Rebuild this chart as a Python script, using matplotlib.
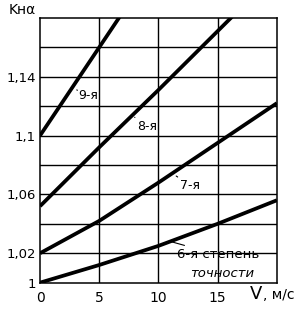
import matplotlib

matplotlib.use("Agg")
import matplotlib.pyplot as plt

# peripheral speed V, m/s and load factor K_Hα for each accuracy grade
speed_6 = [0, 5, 10, 15, 20]
k_6 = [1.000, 1.012, 1.025, 1.040, 1.056]

speed_7 = [0, 5, 10, 15, 20]
k_7 = [1.020, 1.042, 1.068, 1.095, 1.122]

speed_8 = [0, 5, 10, 15, 20]
k_8 = [1.052, 1.092, 1.131, 1.171, 1.211]

speed_9 = [0, 5, 10]
k_9 = [1.100, 1.160, 1.220]

x_ticks = [0, 5, 10, 15]
x_tick_labels = ["0", "5", "10", "15"]
y_ticks = [1.00, 1.02, 1.06, 1.10, 1.14]
y_tick_labels = ["1", "1,02", "1,06", "1,1", "1,14"]

fig = plt.figure(figsize=(2.99, 3.13), dpi=100)
ax = fig.add_axes([0.134, 0.097, 0.792, 0.846])

lw = 2.7
for v, k in [(speed_6, k_6), (speed_7, k_7), (speed_8, k_8), (speed_9, k_9)]:
    ax.plot(v, k, color="black", lw=lw, solid_capstyle="butt")

ax.set_xlim(0, 20)
ax.set_ylim(1.0, 1.18)

# grid every 5 m/s and every 0.02
for gx in [5, 10, 15]:
    ax.axvline(gx, color="black", lw=1.0, zorder=0)
for gy in [1.02, 1.04, 1.06, 1.08, 1.10, 1.12, 1.14, 1.16]:
    ax.axhline(gy, color="black", lw=1.0, zorder=0)
for s in ax.spines.values():
    s.set_linewidth(1.1)

ax.set_xticks(x_ticks)
ax.set_xticklabels(x_tick_labels, fontsize=10)
ax.set_yticks(y_ticks)
ax.set_yticklabels(y_tick_labels, fontsize=9.5)
ax.tick_params(axis="y", length=0, pad=3)
ax.tick_params(axis="x", length=0, pad=6)

fig.text(0.03, 0.955, "Kнα", fontsize=10)
fig.text(0.835, 0.045, "V", fontsize=13)
fig.text(0.878, 0.045, ", м/с", fontsize=10)

lead = dict(arrowstyle="-", color="black", lw=0.8)
ax.annotate("9-я", xy=(3.1, 1.131), xytext=(4.1, 1.127), fontsize=9,
            ha="center", va="center", arrowprops=dict(lead, shrinkA=9, shrinkB=1))
ax.annotate("8-я", xy=(7.9, 1.113), xytext=(9.0, 1.106), fontsize=9,
            ha="center", va="center", arrowprops=dict(lead, shrinkA=9, shrinkB=1))
ax.annotate("7-я", xy=(11.4, 1.073), xytext=(12.7, 1.066), fontsize=9,
            ha="center", va="center", arrowprops=dict(lead, shrinkA=9, shrinkB=1))
ax.annotate("6-я степень", xy=(11.0, 1.028), xytext=(15.0, 1.019), fontsize=9.5,
            ha="center", va="center", arrowprops=dict(lead, shrinkA=40, shrinkB=1))
ax.text(15.4, 1.006, "точности", fontsize=9.5, style="italic", ha="center", va="center")

fig.savefig("out.png", dpi=100)
